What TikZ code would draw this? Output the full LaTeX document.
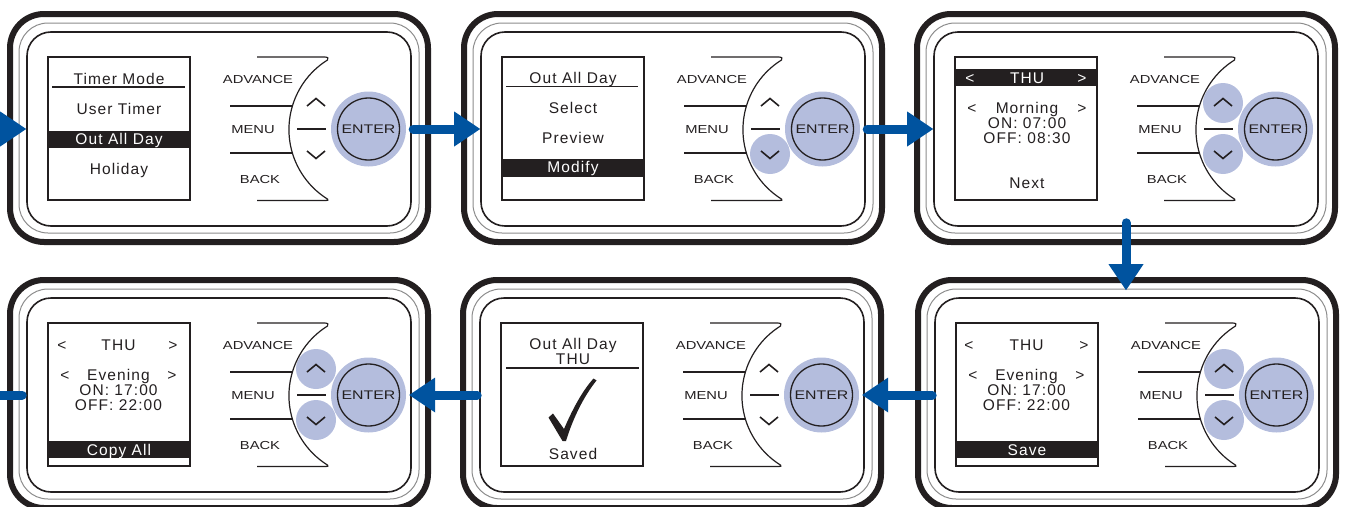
\documentclass[tikz,border=0pt]{standalone}
\usepackage{fontspec}
\setmainfont{Liberation Sans}
\newfontfamily\scrfont[LetterSpace=7]{Liberation Sans}
\newfontfamily\btnfont[FakeStretch=1.27]{Liberation Sans}
\usetikzlibrary{arrows.meta}
\definecolor{ink}{HTML}{231F20}
\definecolor{flowblue}{HTML}{00539F}
\definecolor{btnblue}{HTML}{B4BDDD}
\tikzset{
 outerline/.style={line width=6pt, draw=ink, rounded corners=34pt},
 midline/.style={line width=1pt, draw=black!45, rounded corners=29pt},
 frame/.style={draw=ink, line width=1.6pt, rounded corners=24pt, minimum width=384pt, minimum height=194pt, inner sep=0pt},
 screen/.style={draw=ink, line width=1.3pt, minimum width=142pt, minimum height=143pt, inner sep=0pt},
 scr/.style={font=\scrfont\fontsize{15.5}{18}\selectfont, text=ink, inner sep=0pt, text height=11.1pt, text depth=0pt},
 scrinv/.style={scr, text=white},
 bar/.style={fill=ink, minimum width=142pt, minimum height=17pt, inner sep=0pt},
 uline/.style={draw=ink, line width=1.6pt},
 btnlabel/.style={font=\btnfont\fontsize{11.6}{12}\selectfont, text=ink, inner sep=0pt, text height=8.3pt, text depth=0pt},
 enterout/.style={circle, fill=btnblue, minimum size=75pt, inner sep=0pt},
 enterin/.style={circle, draw=ink, line width=1.3pt, minimum size=62pt, inner sep=0pt, font=\btnfont\fontsize{12.5}{13}\selectfont, text=ink},
 smallbtn/.style={circle, fill=btnblue, minimum size=40pt, inner sep=0pt},
 keyline/.style={draw=ink, line width=1.2pt},
 chevron/.style={draw=ink, line width=1.6pt},
 flow/.style={draw=flowblue, line width=9pt, line cap=round, -{Triangle[length=26pt, width=35pt, line width=0pt]}},
}
\newcommand\devbody[4]{%
\begin{scope}[shift={(#2,#3)}]
 \draw[outerline] (10,14) rectangle (428,242);
 \draw[midline] (19,23) rectangle (419,233);
 \node[frame] (#1f) at (219,129) {};
 \node[screen] (#1s) at (119,128.5) {};
 \ifnum#4=2 \node[smallbtn] (#1u) at (316,103) {};\fi
 \ifnum#4>0 \node[smallbtn] (#1d) at (316,154) {};\fi
 \node[enterout] (#1e) at (368.5,129) {};
 \node[enterin] (#1n) at (#1e) {ENTER};
 \draw[keyline] (257,57) -- (324,57) .. controls (328,57) and (329,58) .. (327.5,60) arc[start angle=238, end angle=122, radius=82] .. controls (329,200) and (328,200.5) .. (324,200.5) -- (257,200.5);
 \draw[keyline] (230,106) -- (292,106);
 \draw[keyline] (230,153) -- (292,153);
 \draw[keyline] (297,129) -- (326,129);
 \draw[chevron] (307,106) -- (316,98.5) -- (325,106);
 \draw[chevron] (307,151) -- (316,158.5) -- (325,151);
 \node[btnlabel] (#1adv) at (258,79) {ADVANCE};
 \node[btnlabel] (#1menu) at (253,129) {MENU};
 \node[btnlabel] (#1back) at (260,179) {BACK};
\end{scope}}
\begin{document}
\begin{tikzpicture}[x=1pt, y=-1pt]
\useasboundingbox (0,0) rectangle (1346,506);
\clip (0,0) rectangle (1346,506);
% panels
\devbody{pa}{0}{0}{0}
\devbody{pb}{454}{0}{1}
\devbody{pc}{907}{0}{2}
\devbody{pd}{0}{266}{2}
\devbody{pe}{453}{266}{0}
\devbody{pf}{908}{266}{2}
% screen 1
\begin{scope}[shift={(0,0)}]
 \node[scr] (pat1) at (119,78.5) {Timer Mode};
 \draw[uline] (52,87) -- (185,87);
 \node[scr] (pat2) at (119,109) {User Timer};
 \node[bar] (pab) at (119,139) {};
 \node[scrinv] (pat3) at (119,139) {Out All Day};
 \node[scr] (pat4) at (119,169) {Holiday};
\end{scope}
% screen 2
\begin{scope}[shift={(454,0)}]
 \node[scr] (pbt1) at (119,78.3) {Out All Day};
 \draw[uline] (52,86.5) -- (184,86.5);
 \node[scr] (pbt2) at (119,108) {Select};
 \node[scr] (pbt3) at (119,138) {Preview};
 \node[bar, minimum height=18pt] (pbb) at (119,167.5) {};
 \node[scrinv] (pbt4) at (119,167) {Modify};
\end{scope}
% screen 3
\begin{scope}[shift={(907,0)}]
 \node[bar] (pcb) at (119,77.5) {};
 \node[scrinv] (pcl1) at (63,78) {<};
 \node[scrinv] (pct1) at (120,78) {THU};
 \node[scrinv] (pcr1) at (175,78) {>};
 \node[scr] (pcl2) at (65,108) {<};
 \node[scr] (pct2) at (120,108) {Morning};
 \node[scr] (pcr2) at (175,108) {>};
 \node[scr] (pct3) at (120,123.3) {ON: 07:00};
 \node[scr] (pct4) at (120,138.3) {OFF: 08:30};
 \node[scr] (pct5) at (120,183) {Next};
\end{scope}
% screen 4
\begin{scope}[shift={(0,266)}]
 \node[scr] (pdl1) at (62,79) {<};
 \node[scr] (pdt1) at (118.5,79) {THU};
 \node[scr] (pdr1) at (173,79) {>};
 \node[scr] (pdl2) at (65,108.7) {<};
 \node[scr] (pdt2) at (118.5,108.7) {Evening};
 \node[scr] (pdr2) at (172,108.7) {>};
 \node[scr] (pdt3) at (118.5,123.5) {ON: 17:00};
 \node[scr] (pdt4) at (118.5,139) {OFF: 22:00};
 \node[bar] (pdb) at (119,183.5) {};
 \node[scrinv] (pdt5) at (119,184) {Copy All};
\end{scope}
% screen 5
\begin{scope}[shift={(453,266)}]
 \node[scr] (pet1) at (120,77.8) {Out All Day};
 \node[scr] (pet2) at (120,92.7) {THU};
 \draw[uline] (53,101.7) -- (186,101.7);
 \fill[ink] (95.5,151.5) -- (100,147.5) -- (111,163) .. controls (120,142) and (130,124) .. (140.5,112.5) -- (143.5,114.5) .. controls (131,130) and (120,152) .. (113,175) -- (109.5,175) -- cycle;
 \node[scr] (pet3) at (120,187.7) {Saved};
\end{scope}
% screen 6
\begin{scope}[shift={(908,266)}]
 \node[scr] (pfl1) at (61,79) {<};
 \node[scr] (pft1) at (118.5,79) {THU};
 \node[scr] (pfr1) at (176,79) {>};
 \node[scr] (pfl2) at (65,108.7) {<};
 \node[scr] (pft2) at (118.5,108.7) {Evening};
 \node[scr] (pfr2) at (172,108.7) {>};
 \node[scr] (pft3) at (118.5,123.5) {ON: 17:00};
 \node[scr] (pft4) at (118.5,139) {OFF: 22:00};
 \node[bar] (pfb) at (119,183.5) {};
 \node[scrinv] (pft5) at (119,184) {Save};
\end{scope}
% flow arrows
\coordinate (in0) at (-40,129);
\coordinate (out0) at (-70,395);
\draw[flow] (in0) -- (paf.west);
\draw[flow] ([xshift=7pt]pae.east) -- (pbf.west);
\draw[flow] ([xshift=7pt]pbe.east) -- (pcf.west);
\coordinate (dtop) at ([yshift=4pt]pcf.south);
\coordinate (dbot) at ([yshift=7pt]pff.north);
\draw[flow] (dtop) -- (dtop |- dbot);
\coordinate (l6) at ([xshift=-2pt]pff.west);
\coordinate (l5) at ([xshift=3pt]pee.east);
\draw[flow] (l6) -- (l5 |- l6);
\coordinate (l5s) at ([xshift=-2pt]pef.west);
\coordinate (l4) at ([xshift=3pt]pde.east);
\draw[flow] (l5s) -- (l4 |- l5s);
\draw[flow] ([xshift=-4pt]pdf.west) -- (out0);
\end{tikzpicture}
\end{document}
